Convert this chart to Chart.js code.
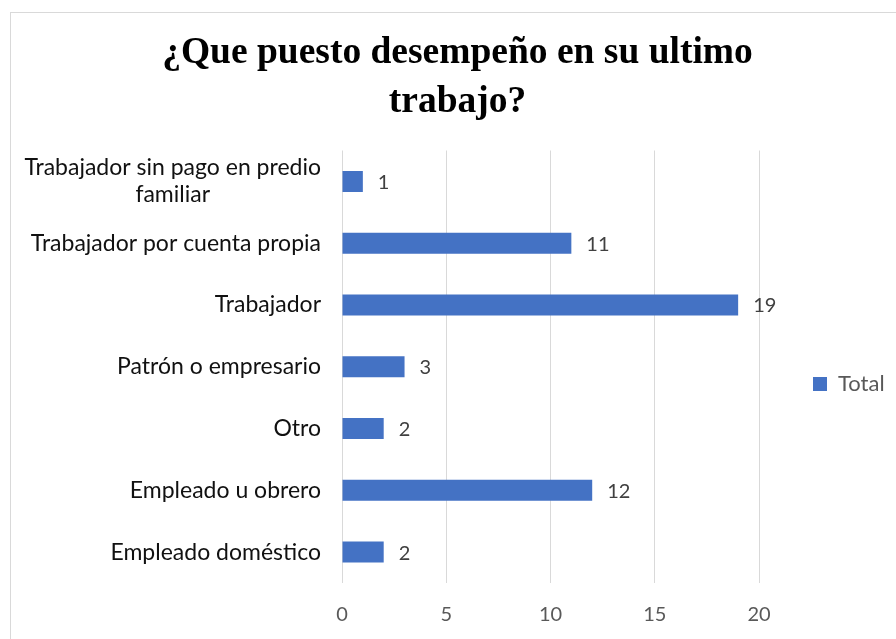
<!DOCTYPE html>
<html>
<head>
<meta charset="utf-8">
<script src="https://cdn.jsdelivr.net/npm/chart.js@4"></script>
<style>
  html, body { margin: 0; padding: 0; background: #fff; overflow: hidden; width: 896px; height: 639px; }
  #frame { position: absolute; left: 10px; top: 12px; width: 900px; height: 640px;
           border-left: 1px solid #d9d9d9; border-top: 1px solid #d9d9d9; }
  #chart { position: absolute; left: 0; top: 0; }
</style>
</head>
<body>
<div id="frame"></div>
<canvas id="chart" width="915" height="639"></canvas>
<script>
// Chart data
const categories = [
    ['Trabajador sin pago en predio', 'familiar'],
    'Trabajador por cuenta propia',
    'Trabajador',
    'Patrón o empresario',
    'Otro',
    'Empleado u obrero',
    'Empleado doméstico'
];
const totals = [1, 11, 19, 3, 2, 12, 2];
const seriesName = 'Total';
const titleLines = ['¿Que puesto desempeño en su ultimo', 'trabajo?'];

const plotLeft = 342;
const plotRight = 759;
const legendBoxX = 813;
const legendMidY = 384;

// Value labels next to each bar
const barValues = {
    id: 'barValues',
    afterDatasetsDraw(chart) {
        const ctx = chart.ctx;
        ctx.save();
        ctx.font = '20px Lato';
        ctx.fillStyle = '#404040';
        ctx.textAlign = 'left';
        ctx.textBaseline = 'middle';
        chart.getDatasetMeta(0).data.forEach((bar, i) => {
            ctx.fillText(totals[i], bar.x + 15, bar.y + 1);
        });
        ctx.restore();
    }
};

// Category labels: each block right aligned, lines centred inside the block (like Excel)
const catLabels = {
    id: 'catLabels',
    afterDraw(chart) {
        const ctx = chart.ctx;
        const yScale = chart.scales.y;
        ctx.save();
        ctx.font = '23px Lato';
        ctx.fillStyle = '#111';
        ctx.textAlign = 'center';
        ctx.textBaseline = 'middle';
        categories.forEach((lab, i) => {
            const lines = Array.isArray(lab) ? lab : [lab];
            const w = Math.max(...lines.map(l => ctx.measureText(l).width));
            const cx = plotLeft - 21 - w / 2;
            const yc = yScale.getPixelForTick(i);
            lines.forEach((l, j) => {
                ctx.fillText(l, cx, yc + (j - (lines.length - 1) / 2) * 27);
            });
        });
        ctx.restore();
    }
};

// Put the title over the whole canvas and move the legend where the original has it
const placeBoxes = {
    id: 'placeBoxes',
    afterLayout(chart) {
        const t = chart.titleBlock;
        t.left = 0;
        t.right = chart.width;
        const lg = chart.legend;
        const dx = legendBoxX - lg.options.labels.padding - lg.left;
        lg.left += dx;
        lg.right += dx;
        const dy = legendMidY - (lg.top + lg.bottom) / 2;
        lg.top += dy;
        lg.bottom += dy;
    }
};

const ctx = document.getElementById('chart').getContext('2d');
const chart = new Chart(ctx, {
    type: 'bar',
    data: {
        labels: categories,
        datasets: [{
            label: seriesName,
            data: totals,
            backgroundColor: '#4472c4',
            borderWidth: 0,
            barPercentage: 0.34,
            categoryPercentage: 1
        }]
    },
    options: {
        indexAxis: 'y',
        responsive: false,
        animation: false,
        layout: { padding: { left: 0, right: 60, top: 29, bottom: 0 } },
        plugins: {
            title: {
                display: true,
                text: titleLines,
                color: '#000',
                font: { family: 'Liberation Serif', size: 37.5, weight: 'bold', lineHeight: 1.3 },
                padding: { top: 0, bottom: 24 }
            },
            legend: {
                position: 'right',
                labels: {
                    color: '#595959',
                    font: { family: 'Lato', size: 22 },
                    boxWidth: 14,
                    boxHeight: 14,
                    padding: 10
                }
            },
            tooltip: { enabled: false }
        },
        scales: {
            x: {
                min: 0,
                max: 20,
                ticks: { stepSize: 5, color: '#595959', font: { family: 'Lato', size: 20 }, padding: 20 },
                grid: { color: '#d9d9d9', drawTicks: false },
                border: { display: false },
                afterFit(scale) { scale.height = 56; }
            },
            y: {
                ticks: { display: false },
                grid: { display: false },
                border: { display: false },
                afterFit(scale) { scale.width = plotLeft; }
            }
        }
    },
    plugins: [barValues, catLabels, placeBoxes]
});

// second pass: make the plot end where the 20 gridline is
chart.options.layout.padding.right += chart.chartArea.right - plotRight;
chart.update();
</script>
</body>
</html>
